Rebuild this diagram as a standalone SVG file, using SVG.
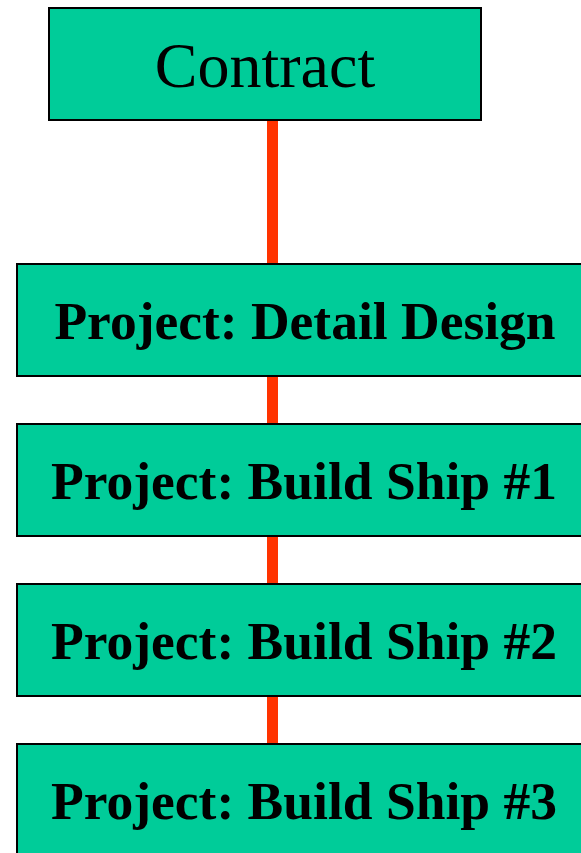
<svg xmlns="http://www.w3.org/2000/svg" width="581" height="853" viewBox="0 0 581 853">
  <style>
    .box { fill: #00CC99; stroke: #000; stroke-width: 2; }
    .link { stroke: #FF3300; stroke-width: 11; fill: none; }
    .title { font-family: "Liberation Serif", "Times New Roman", serif; font-size: 64px; fill: #000; text-anchor: middle; }
    .label { font-family: "Liberation Serif", "Times New Roman", serif; font-size: 53.5px; font-weight: bold; fill: #000; text-anchor: middle; }
  </style>
  <rect width="581" height="853" fill="#fff"/>
  <g id="connectors">
    <line class="link" x1="272.5" y1="120" x2="272.5" y2="744"/>
  </g>
  <g id="contract">
    <rect class="box" x="49" y="8" width="432" height="112"/>
    <text class="title" x="265" y="87">Contract</text>
  </g>
  <g id="detail-design">
    <rect class="box" x="17" y="264" width="576" height="112"/>
    <text class="label" x="305" y="339">Project: Detail Design</text>
  </g>
  <g id="build-ship-1">
    <rect class="box" x="17" y="424" width="576" height="112"/>
    <text class="label" x="304" y="499">Project: Build Ship #1</text>
  </g>
  <g id="build-ship-2">
    <rect class="box" x="17" y="584" width="576" height="112"/>
    <text class="label" x="304" y="659">Project: Build Ship #2</text>
  </g>
  <g id="build-ship-3">
    <rect class="box" x="17" y="744" width="576" height="112"/>
    <text class="label" x="304" y="819">Project: Build Ship #3</text>
  </g>
</svg>
